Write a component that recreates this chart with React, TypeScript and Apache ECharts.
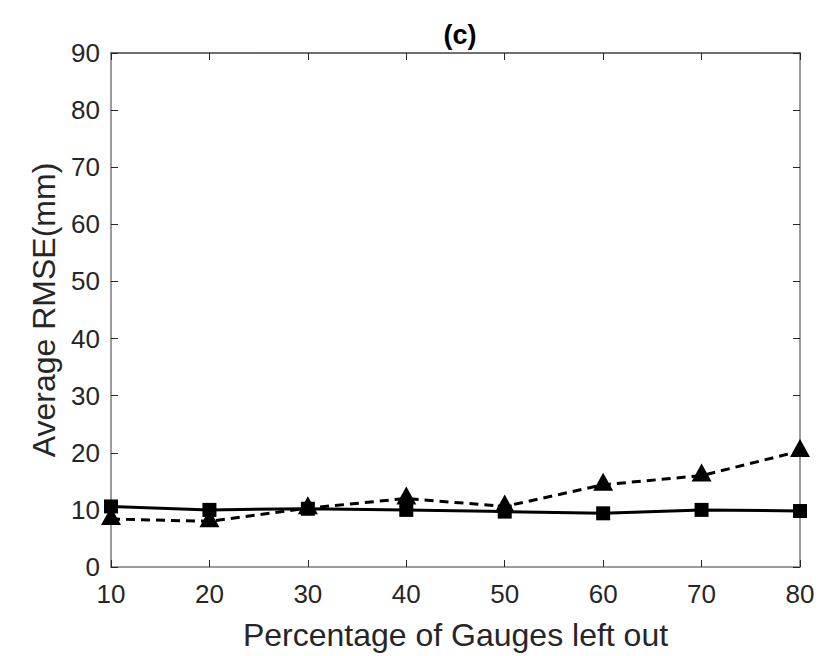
import React, { useEffect, useRef } from "react";
import * as echarts from "echarts";

const percentages = [10, 20, 30, 40, 50, 60, 70, 80];
const solidSquares = [10.6, 10.0, 10.2, 10.0, 9.7, 9.4, 10.0, 9.8];
const dashedTriangles = [8.4, 8.0, 10.3, 12.0, 10.6, 14.4, 16.0, 20.3];

const titleText = "(c)";
const xName = "Percentage of Gauges left out";
const yName = "Average RMSE(mm)";

const FONT = "'Liberation Sans', Arial, Helvetica, sans-serif";
const TXT = "#262626";

export default function App() {
  const ref = useRef<HTMLDivElement>(null);
  useEffect(() => {
    if (!ref.current) return;
    const chart = echarts.init(ref.current, undefined, { renderer: "svg" });
    const tickStyle = { show: true, inside: true, length: 7, lineStyle: { color: "#262626", width: 1 } };
    chart.setOption({
      animation: false,
      backgroundColor: "#ffffff",
      textStyle: { fontFamily: FONT },
      title: {
        text: titleText,
        left: 455,
        textAlign: "center",
        top: 16,
        textStyle: { fontFamily: FONT, fontWeight: "bold", fontSize: 27, color: "#000" },
      },
      grid: { left: 111, right: 33, top: 53, bottom: 87, containLabel: false },
      xAxis: [
        {
          type: "value",
          min: 10,
          max: 80,
          interval: 10,
          position: "bottom",
          name: xName,
          nameLocation: "middle",
          nameGap: 52,
          nameTextStyle: { fontFamily: FONT, fontSize: 32, color: TXT },
          axisLine: { show: true, onZero: false, lineStyle: { color: "#7a7a7a", width: 1.5 } },
          axisTick: tickStyle,
          axisLabel: { fontFamily: FONT, fontSize: 26, color: TXT, margin: 14 },
          splitLine: { show: false },
        },
        {
          type: "value",
          min: 10,
          max: 80,
          interval: 10,
          position: "top",
          axisLine: { show: true, onZero: false, lineStyle: { color: "#404040", width: 1.5 } },
          axisTick: tickStyle,
          axisLabel: { show: false },
          splitLine: { show: false },
        },
      ],
      yAxis: [
        {
          type: "value",
          min: 0,
          max: 90,
          interval: 10,
          position: "left",
          name: yName,
          nameLocation: "middle",
          nameGap: 46,
          nameTextStyle: { fontFamily: FONT, fontSize: 32, color: TXT },
          axisLine: { show: true, onZero: false, lineStyle: { color: "#7a7a7a", width: 1.5 } },
          axisTick: tickStyle,
          axisLabel: { fontFamily: FONT, fontSize: 26, color: TXT, margin: 11 },
          splitLine: { show: false },
        },
        {
          type: "value",
          min: 0,
          max: 90,
          interval: 10,
          position: "right",
          axisLine: { show: true, onZero: false, lineStyle: { color: "#7a7a7a", width: 1.5 } },
          axisTick: tickStyle,
          axisLabel: { show: false },
          splitLine: { show: false },
        },
      ],
      series: [
        {
          name: "solid",
          type: "line",
          xAxisIndex: 0,
          yAxisIndex: 0,
          data: percentages.map((p, i) => [p, solidSquares[i]]),
          symbol: "rect",
          symbolSize: 14,
          showAllSymbol: true,
          lineStyle: { color: "#000", width: 3, type: "solid" },
          itemStyle: { color: "#000", borderWidth: 0 },
          clip: false,
        },
        {
          name: "dashed",
          type: "line",
          xAxisIndex: 0,
          yAxisIndex: 0,
          data: percentages.map((p, i) => [p, dashedTriangles[i]]),
          symbol: "triangle",
          symbolSize: [20, 18],
          symbolOffset: [0, -3],
          showAllSymbol: true,
          lineStyle: { color: "#000", width: 3, type: [9, 6] },
          itemStyle: { color: "#000", borderWidth: 0 },
          clip: false,
        },
      ],
    });
    return () => chart.dispose();
  }, []);
  return (
    <div
      ref={ref}
      style={{ position: "fixed", left: 0, top: 0, width: 833, height: 656, background: "#fff" }}
    />
  );
}
